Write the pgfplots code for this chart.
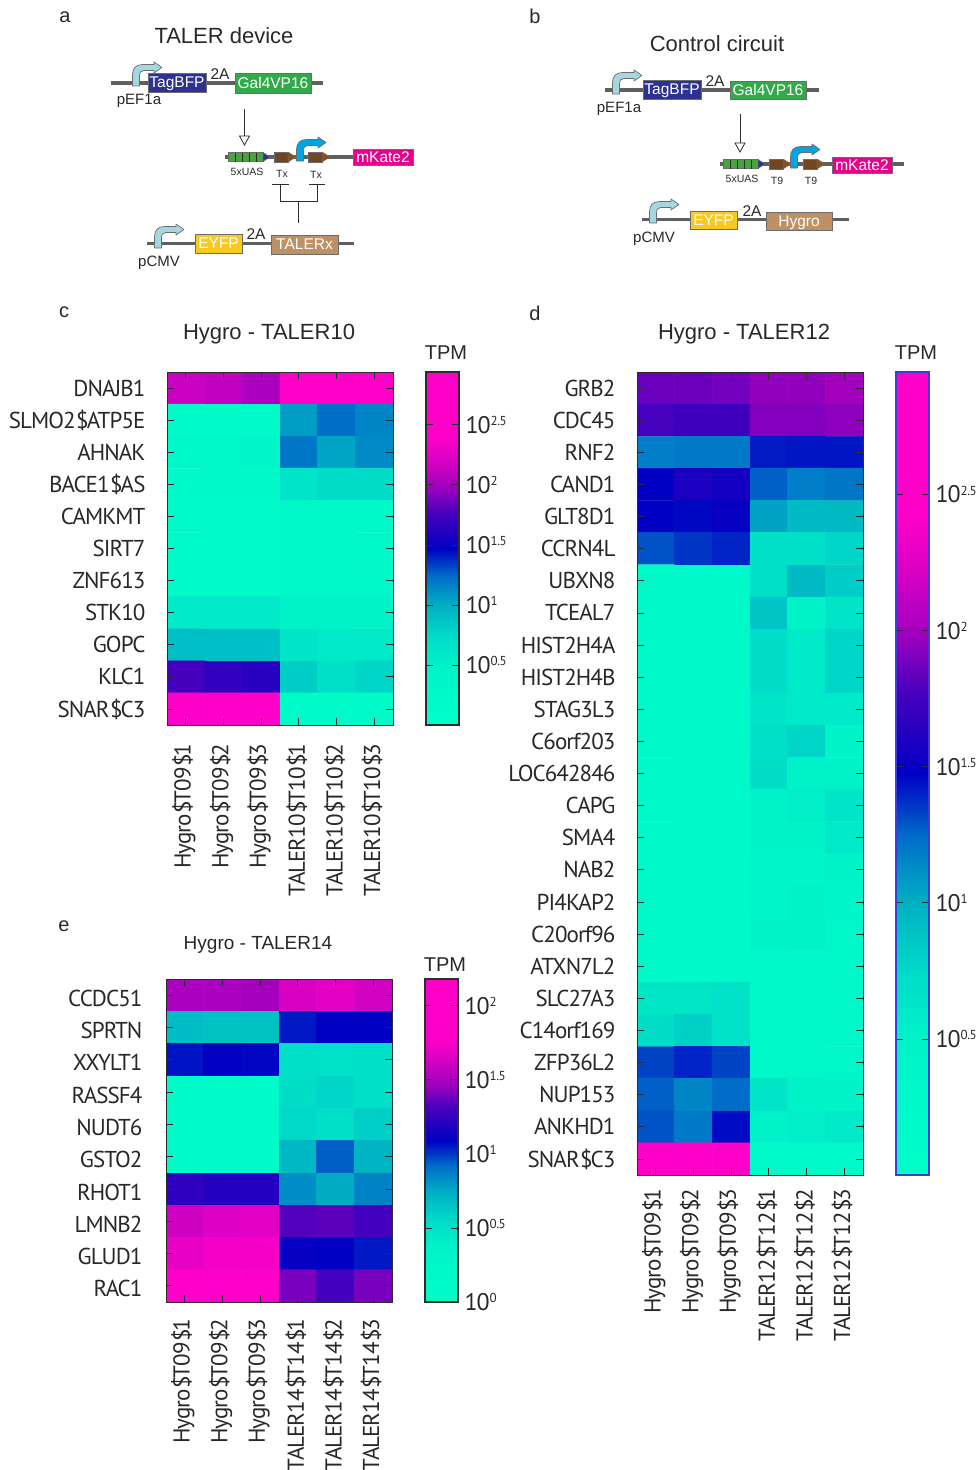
\documentclass[border=0pt]{standalone}
\usepackage{pgfplots}
\usepackage{fontspec}
\pgfplotsset{compat=1.18}
\setmainfont{Liberation Sans}
\newfontfamily\lab[LetterSpace=-4]{PT Sans}
\definecolor{ink}{RGB}{40,40,40}
\definecolor{gline}{RGB}{95,95,95}
\definecolor{edge}{RGB}{45,45,45}
\definecolor{lblue}{RGB}{165,215,225}
\definecolor{sblue}{RGB}{0,165,225}
\definecolor{navy}{RGB}{45,50,145}
\definecolor{ggreen}{RGB}{50,170,75}
\definecolor{pinkk}{RGB}{230,0,140}
\definecolor{yel}{RGB}{250,200,30}
\definecolor{tan2}{RGB}{190,145,100}
\definecolor{brownn}{RGB}{115,70,35}
\definecolor{uasg}{RGB}{70,165,60}
\definecolor{bluedge}{RGB}{60,60,220}
\newcommand{\D}{\kern0.5pt\$\kern-2pt\relax}
\pgfplotsset{
  colormap={taler}{rgb255(0)=(0,255,200) rgb255(17)=(0,243,200) rgb255(25)=(0,220,200) rgb255(34)=(0,175,195) rgb255(42)=(0,110,200) rgb255(50)=(0,0,195) rgb255(60)=(70,0,190) rgb255(68)=(165,0,190) rgb255(75)=(215,0,195) rgb255(82)=(255,0,200) rgb255(100)=(255,0,200)},
  heat/.style={
    scale only axis, axis on top, width=226pt,
    y dir=reverse, xmin=-0.5, xmax=5.5,
    xtick={0,...,5}, tick align=inside, tickpos=both,
    major tick length=7pt, tick style={edge, line width=0.8pt},
    axis line style={edge, line width=1pt},
    point meta min=0,
    ticklabel style={font=\lab\fontsize{23}{23}\selectfont, text=ink},
    yticklabel style={anchor=east, xshift=-18pt},
    xticklabel style={rotate=90, anchor=east, yshift=2pt},
  },
  bar/.style={
    scale only axis, axis on top, anchor=south west, width=33pt,
    xmin=0, xmax=1, xtick=\empty, point meta min=0,
    tickpos=both, tick align=inside,
    major tick length=7pt, tick style={edge, line width=0.8pt},
    axis line style={edge, line width=1pt},
    yticklabel pos=right,
    yticklabel style={font=\lab\fontsize{24}{24}\selectfont, text=ink, anchor=west, xshift=3pt},
  },
}
\newcommand{\pw}[1]{10\raisebox{0.62ex}{\fontsize{13}{13}\selectfont #1}}
\newcommand{\backbone}[3]{\draw[gline, line width=3.2pt] (#1,#3)--(#2,#3);}
\newcommand{\labelbox}[7]{\draw[edge!70, line width=0.9pt, fill=#5] (#1,#2) rectangle (#3,#4);
  \node[text=white, font=\fontsize{#6}{#6}\selectfont, inner sep=0, yshift=-1.5pt] at ({(#1+#3)/2},{(#2+#4)/2}) {\vphantom{Ag}#7};}
\newcommand{\promoter}[3]{\begin{scope}[shift={(#1,#2)}]
  \draw[edge!70, line width=0.7pt, fill=#3, rounded corners=0.2pt]
   (-3.5,1) -- (-3.5,-10) .. controls (-3.5,-17) and (0,-20.5) .. (7,-20.5) -- (18,-20.5) -- (18,-23) -- (26,-17.5) -- (18,-12) -- (18,-14.5) -- (8,-14.5) .. controls (5,-14.5) and (3.5,-12.5) .. (3.5,-9) -- (3.5,1) -- cycle;
  \end{scope}}
\newcommand{\uas}[2]{\draw[edge!70, line width=0.7pt, fill=uasg] (#1,#2-4.5) rectangle (#1+35,#2+4.5);
  \foreach \k in {7,14,21,28} {\draw[edge, line width=0.7pt] (#1+\k,#2-4.5)--(#1+\k,#2+4.5);}
  \draw[edge!70, line width=0.5pt, fill=navy] (#1+35,#2-4.5)--(#1+42,#2)--(#1+35,#2+4.5)--cycle;}
\newcommand{\term}[2]{\draw[edge!70, line width=0.7pt, fill=brownn] (#1,#2-5) rectangle (#1+14,#2+5);
  \draw[edge!70, line width=0.5pt, fill=brownn!85!orange] (#1+14,#2-5)--(#1+22,#2)--(#1+14,#2+5)--cycle;}
\newcommand{\openarrow}[3]{\draw[edge, line width=0.7pt] (#1,#2)--(#1,#3-9);
  \draw[edge, line width=0.8pt, fill=white] (#1-5,#3-9)--(#1+5,#3-9)--(#1,#3)--cycle;}
\newcommand{\txt}[4]{\node[text=ink, font=\fontsize{#3}{#3}\selectfont, inner sep=0, yshift=-0.5pt] at (#1,#2) {#4};}

\begin{document}
\begin{tikzpicture}[x=1pt,y=-1pt]
\path[use as bounding box] (0,0) rectangle (980,1470);

% ---------- panel a
\txt{65}{17}{20}{a}
\txt{224}{35.5}{22}{TALER device}
\backbone{111}{323}{83}
\promoter{136}{85}{lblue}
\labelbox{148}{73}{206}{92}{navy}{15.5}{TagBFP}
\labelbox{235}{73.5}{311}{93}{ggreen}{15.5}{Gal4VP16}
\txt{220}{74}{15.5}{2A}
\txt{139}{100}{15}{pEF1a}
\openarrow{244.5}{109}{145}
\backbone{225}{413}{157}
\uas{228}{157}
\term{274}{157}
\promoter{300}{160}{sblue}
\term{308}{157}
\labelbox{353}{149}{413}{165}{pinkk}{15.5}{mKate2}
\txt{247}{171}{10.5}{5xUAS}
\txt{282}{173}{10.5}{Tx}
\txt{316}{174}{10.5}{Tx}
\draw[edge, line width=0.7pt] (272,184)--(289,184) (309,184)--(325,184)
  (280,184)--(280,201)--(317,201)--(317,184) (298,201)--(298,223);
\backbone{147}{354}{243.5}
\promoter{158}{247}{lblue}
\labelbox{195}{234}{242}{253}{yel}{15.5}{EYFP}
\labelbox{271}{235}{338}{254}{tan2}{15.5}{TALERx}
\txt{256}{234}{15.5}{2A}
\txt{159}{262}{15}{pCMV}

% ---------- panel b
\txt{535}{15.5}{20}{b}
\txt{717}{43.5}{22}{Control circuit}
\backbone{605}{819}{90}
\promoter{616}{93}{lblue}
\labelbox{643}{80}{701}{99}{navy}{15.5}{TagBFP}
\labelbox{730}{81}{806}{99.5}{ggreen}{15.5}{Gal4VP16}
\txt{715}{81}{15.5}{2A}
\txt{619}{108}{15}{pEF1a}
\openarrow{740}{114}{152}
\backbone{720}{904}{164}
\uas{723}{164}
\term{769}{164}
\promoter{794}{167}{sblue}
\term{803}{164}
\labelbox{832}{157}{892}{173}{pinkk}{15.5}{mKate2}
\txt{742}{178}{10.5}{5xUAS}
\txt{777}{180}{10.5}{T9}
\txt{811}{180}{10.5}{T9}
\backbone{642}{849}{219.5}
\promoter{653}{222}{lblue}
\labelbox{690}{211}{737}{229}{yel}{15.5}{EYFP}
\labelbox{766}{212}{832}{230}{tan2}{15.5}{Hygro}
\txt{752}{211}{15.5}{2A}
\txt{654}{238}{15}{pCMV}

% ---------- panel c
\txt{64}{312}{20}{c}
\txt{269}{333.5}{22}{Hygro - TALER10}
\txt{446}{352}{20}{TPM}
\begin{axis}[heat, at={(167pt,-725pt)}, anchor=south west, height=353pt,
  ymin=-0.5, ymax=10.5, ytick={0,...,10},
  yticklabels={DNAJB1,SLMO2\D{}ATP5E,AHNAK,BACE1\D{}AS,CAMKMT,SIRT7,ZNF613,STK10,GOPC,KLC1,SNAR\D{}C3},
  xticklabels={Hygro\D{}T09\D{}1,Hygro\D{}T09\D{}2,Hygro\D{}T09\D{}3,TALER10\D{}T10\D{}1,TALER10\D{}T10\D{}2,TALER10\D{}T10\D{}3},
  xticklabel style={xshift=-15pt},
  point meta max=2.94,
]
\addplot[matrix plot*, mesh/cols=6, point meta=explicit] coordinates {
(0,0)[2.15] (1,0)[2.12] (2,0)[2.03] (3,0)[2.6] (4,0)[2.6] (5,0)[2.6]
(0,1)[0.2] (1,1)[0.2] (2,1)[0.2] (3,1)[1.06] (4,1)[1.23] (5,1)[1.15]
(0,2)[0.35] (1,2)[0.35] (2,2)[0.4] (3,2)[1.2] (4,2)[1.04] (5,2)[1.13]
(0,3)[0.25] (1,3)[0.25] (2,3)[0.25] (3,3)[0.65] (4,3)[0.73] (5,3)[0.73]
(0,4)[0.2] (1,4)[0.2] (2,4)[0.2] (3,4)[0.3] (4,4)[0.3] (5,4)[0.3]
(0,5)[0.2] (1,5)[0.2] (2,5)[0.2] (3,5)[0.3] (4,5)[0.3] (5,5)[0.3]
(0,6)[0.2] (1,6)[0.2] (2,6)[0.2] (3,6)[0.3] (4,6)[0.3] (5,6)[0.35]
(0,7)[0.6] (1,7)[0.6] (2,7)[0.6] (3,7)[0.5] (4,7)[0.5] (5,7)[0.5]
(0,8)[0.91] (1,8)[0.91] (2,8)[0.91] (3,8)[0.65] (4,8)[0.6] (5,8)[0.6]
(0,9)[1.76] (1,9)[1.68] (2,9)[1.64] (3,9)[0.82] (4,9)[0.7] (5,9)[0.77]
(0,10)[2.7] (1,10)[2.7] (2,10)[2.7] (3,10)[0.15] (4,10)[0.15] (5,10)[0.15]
};
\end{axis}
\begin{axis}[bar, at={(426pt,-725pt)}, height=353pt, ymin=0, ymax=2.94, point meta max=2.94,
  ytick={0.5,1,1.5,2,2.5}, yticklabels={\pw{0.5},\pw{1},\pw{1.5},\pw{2},\pw{2.5}}]
\addplot[surf, shader=interp, mesh/cols=2, point meta=y] coordinates {(0,0) (1,0) (0,2.94) (1,2.94)};
\end{axis}
\draw[edge, line width=1.2pt] (426,372) rectangle (459,725);

% ---------- panel d
\txt{535}{313}{20}{d}
\txt{744}{333.5}{22}{Hygro - TALER12}
\txt{916}{352}{20}{TPM}
\begin{axis}[heat, at={(637pt,-1175pt)}, anchor=south west, height=803pt,
  ymin=-0.5, ymax=24.5, ytick={0,...,24},
  yticklabels={GRB2,CDC45,RNF2,CAND1,GLT8D1,CCRN4L,UBXN8,TCEAL7,HIST2H4A,HIST2H4B,STAG3L3,C6orf203,LOC642846,CAPG,SMA4,NAB2,PI4KAP2,C20orf96,ATXN7L2,SLC27A3,C14orf169,ZFP36L2,NUP153,ANKHD1,SNAR\D{}C3},
  xticklabels={Hygro\D{}T09\D{}1,Hygro\D{}T09\D{}2,Hygro\D{}T09\D{}3,TALER12\D{}T12\D{}1,TALER12\D{}T12\D{}2,TALER12\D{}T12\D{}3},
  xticklabel style={xshift=-10pt},
  point meta max=2.95,
]
\addplot[matrix plot*, mesh/cols=6, point meta=explicit] coordinates {
(0,0)[1.86] (1,0)[1.86] (2,0)[1.88] (3,0)[1.96] (4,0)[1.96] (5,0)[2.0]
(0,1)[1.77] (1,1)[1.74] (2,1)[1.74] (3,1)[1.92] (4,1)[1.92] (5,1)[1.95]
(0,2)[1.18] (1,2)[1.2] (2,2)[1.2] (3,2)[1.42] (4,2)[1.43] (5,2)[1.43]
(0,3)[1.48] (1,3)[1.59] (2,3)[1.56] (3,3)[1.27] (4,3)[1.18] (5,3)[1.21]
(0,4)[1.48] (1,4)[1.46] (2,4)[1.5] (3,4)[1.05] (4,4)[0.94] (5,4)[0.94]
(0,5)[1.3] (1,5)[1.36] (2,5)[1.4] (3,5)[0.71] (4,5)[0.7] (5,5)[0.77]
(0,6)[0.25] (1,6)[0.25] (2,6)[0.25] (3,6)[0.7] (4,6)[0.94] (5,6)[0.82]
(0,7)[0.25] (1,7)[0.25] (2,7)[0.25] (3,7)[0.88] (4,7)[0.45] (5,7)[0.65]
(0,8)[0.25] (1,8)[0.25] (2,8)[0.25] (3,8)[0.73] (4,8)[0.6] (5,8)[0.77]
(0,9)[0.25] (1,9)[0.25] (2,9)[0.25] (3,9)[0.73] (4,9)[0.6] (5,9)[0.77]
(0,10)[0.25] (1,10)[0.25] (2,10)[0.25] (3,10)[0.65] (4,10)[0.6] (5,10)[0.6]
(0,11)[0.25] (1,11)[0.25] (2,11)[0.25] (3,11)[0.7] (4,11)[0.77] (5,11)[0.45]
(0,12)[0.25] (1,12)[0.25] (2,12)[0.25] (3,12)[0.72] (4,12)[0.5] (5,12)[0.5]
(0,13)[0.25] (1,13)[0.25] (2,13)[0.25] (3,13)[0.5] (4,13)[0.55] (5,13)[0.65]
(0,14)[0.25] (1,14)[0.25] (2,14)[0.25] (3,14)[0.45] (4,14)[0.45] (5,14)[0.6]
(0,15)[0.25] (1,15)[0.25] (2,15)[0.25] (3,15)[0.4] (4,15)[0.4] (5,15)[0.45]
(0,16)[0.25] (1,16)[0.25] (2,16)[0.25] (3,16)[0.4] (4,16)[0.5] (5,16)[0.4]
(0,17)[0.25] (1,17)[0.25] (2,17)[0.25] (3,17)[0.45] (4,17)[0.5] (5,17)[0.35]
(0,18)[0.25] (1,18)[0.25] (2,18)[0.25] (3,18)[0.35] (4,18)[0.35] (5,18)[0.35]
(0,19)[0.62] (1,19)[0.62] (2,19)[0.68] (3,19)[0.3] (4,19)[0.3] (5,19)[0.3]
(0,20)[0.72] (1,20)[0.8] (2,20)[0.68] (3,20)[0.3] (4,20)[0.3] (5,20)[0.3]
(0,21)[1.33] (1,21)[1.4] (2,21)[1.33] (3,21)[0.35] (4,21)[0.3] (5,21)[0.3]
(0,22)[1.27] (1,22)[1.15] (2,22)[1.24] (3,22)[0.65] (4,22)[0.5] (5,22)[0.45]
(0,23)[1.3] (1,23)[1.2] (2,23)[1.45] (3,23)[0.5] (4,23)[0.55] (5,23)[0.6]
(0,24)[2.7] (1,24)[2.7] (2,24)[2.7] (3,24)[0.2] (4,24)[0.2] (5,24)[0.2]
};
\end{axis}
\begin{axis}[bar, at={(896pt,-1175pt)}, height=803pt, ymin=0, ymax=2.95, point meta max=2.95,
  ytick={0.5,1,1.5,2,2.5}, yticklabels={\pw{0.5},\pw{1},\pw{1.5},\pw{2},\pw{2.5}}]
\addplot[surf, shader=interp, mesh/cols=2, point meta=y] coordinates {(0,0) (1,0) (0,2.95) (1,2.95)};
\end{axis}
\draw[bluedge, line width=1.2pt] (896,372) rectangle (929,1175);

% ---------- panel e
\txt{64}{926}{20}{e}
\txt{258}{944}{19}{Hygro - TALER14}
\txt{445}{964}{20}{TPM}
\begin{axis}[heat, at={(166pt,-1302pt)}, anchor=south west, height=323pt,
  ymin=-0.5, ymax=9.5, ytick={0,...,9},
  yticklabels={CCDC51,SPRTN,XXYLT1,RASSF4,NUDT6,GSTO2,RHOT1,LMNB2,GLUD1,RAC1},
  xticklabels={Hygro\D{}T09\D{}1,Hygro\D{}T09\D{}2,Hygro\D{}T09\D{}3,TALER14\D{}T14\D{}1,TALER14\D{}T14\D{}2,TALER14\D{}T14\D{}3},
  xticklabel style={xshift=-13pt},
  yticklabel style={xshift=-2pt, yshift=-3pt},
  point meta max=2.18,
]
\addplot[matrix plot*, mesh/cols=6, point meta=explicit] coordinates {
(0,0)[1.5] (1,0)[1.5] (2,0)[1.48] (3,0)[1.64] (4,0)[1.68] (5,0)[1.62]
(0,1)[0.68] (1,1)[0.66] (2,1)[0.66] (3,1)[1.05] (4,1)[1.09] (5,1)[1.09]
(0,2)[1.06] (1,2)[1.1] (2,2)[1.08] (3,2)[0.52] (4,2)[0.5] (5,2)[0.52]
(0,3)[0.15] (1,3)[0.15] (2,3)[0.15] (3,3)[0.53] (4,3)[0.57] (5,3)[0.52]
(0,4)[0.15] (1,4)[0.15] (2,4)[0.15] (3,4)[0.56] (4,4)[0.52] (5,4)[0.6]
(0,5)[0.15] (1,5)[0.15] (2,5)[0.15] (3,5)[0.7] (4,5)[0.94] (5,5)[0.72]
(0,6)[1.24] (1,6)[1.2] (2,6)[1.2] (3,6)[0.83] (4,6)[0.75] (5,6)[0.86]
(0,7)[1.61] (1,7)[1.66] (2,7)[1.68] (3,7)[1.33] (4,7)[1.35] (5,7)[1.3]
(0,8)[1.7] (1,8)[1.75] (2,8)[1.75] (3,8)[1.11] (4,8)[1.09] (5,8)[1.05]
(0,9)[1.85] (1,9)[1.85] (2,9)[1.85] (3,9)[1.4] (4,9)[1.3] (5,9)[1.4]
};
\end{axis}
\begin{axis}[bar, at={(425pt,-1302pt)}, height=323pt, ymin=0, ymax=2.18, point meta max=2.18,
  ytick={0,0.5,1,1.5,2}, yticklabels={\pw{0},\pw{0.5},\pw{1},\pw{1.5},\pw{2}}]
\addplot[surf, shader=interp, mesh/cols=2, point meta=y] coordinates {(0,0) (1,0) (0,2.18) (1,2.18)};
\end{axis}
\draw[edge, line width=1.2pt] (425,979) rectangle (458,1302);
\end{tikzpicture}
\end{document}
